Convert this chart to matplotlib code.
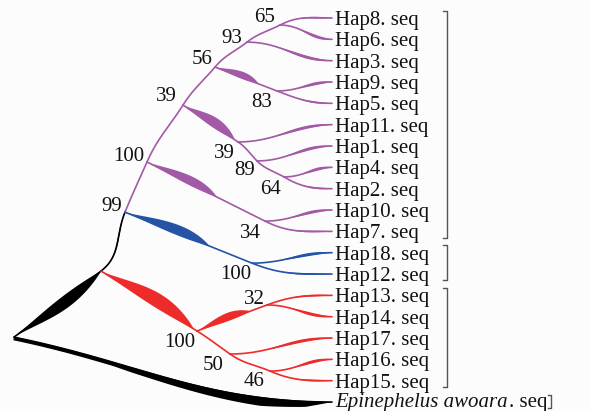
import numpy as np
import matplotlib
matplotlib.use("Agg")
from matplotlib import pyplot as plt

# leaves, top to bottom (row index = position in list)
leaf_names = ["Hap8", "Hap6", "Hap3", "Hap9", "Hap5", "Hap11", "Hap1", "Hap4", "Hap2",
              "Hap10", "Hap7", "Hap18", "Hap12", "Hap13", "Hap14", "Hap17", "Hap16",
              "Hap15", "Epinephelus awoara"]
leaf_depth = 332

# internal nodes: depth (x) and row (y), bootstrap support
node_names = ["root", "A", "n99", "p100", "n39a", "n56", "n93", "n65", "n83",
              "n39b", "n89", "n64", "n34", "b100", "r100", "n32", "n50", "n46"]
node_x = [14, 101, 125, 147, 183, 215, 247, 280, 277, 238, 257, 284, 265, 252, 197, 267, 230, 270]
node_y = [14.96, 11.86, 9.10, 6.75, 4.08, 2.30, 1.13, 0.33, 3.42,
          5.81, 6.70, 7.45, 9.52, 11.49, 14.67, 13.45, 15.75, 16.55]
bootstrap = [None, None, 99, 100, 39, 56, 93, 65, 83, 39, 89, 64, 34, 100, 100, 32, 50, 46]

# topology, parents listed before children
edges = [("root", "Epinephelus awoara"), ("root", "A"),
         ("A", "n99"), ("A", "r100"),
         ("n99", "p100"), ("n99", "b100"),
         ("p100", "n39a"), ("p100", "n34"),
         ("n39a", "n56"), ("n39a", "n39b"),
         ("n56", "n93"), ("n56", "n83"),
         ("n93", "n65"), ("n93", "Hap3"),
         ("n65", "Hap8"), ("n65", "Hap6"),
         ("n83", "Hap9"), ("n83", "Hap5"),
         ("n39b", "Hap11"), ("n39b", "n89"),
         ("n89", "Hap1"), ("n89", "n64"),
         ("n64", "Hap4"), ("n64", "Hap2"),
         ("n34", "Hap10"), ("n34", "Hap7"),
         ("b100", "Hap18"), ("b100", "Hap12"),
         ("r100", "n32"), ("r100", "n50"),
         ("n32", "Hap13"), ("n32", "Hap14"),
         ("n50", "Hap17"), ("n50", "n46"),
         ("n46", "Hap16"), ("n46", "Hap15")]

groups = [(0, 10), (11, 12), (13, 17)]

# ---- styles ----
clade_colors = {"p100": "#a25aa6", "b100": "#2553a6", "r100": "#ee2b2b"}
# label offsets (px, right / down) of bootstrap numbers from their node
label_off = {"n99": (-13, -8), "p100": (-18, -8), "n39a": (-17, -11), "n56": (-13, -10),
             "n93": (-15, -6), "n65": (-15, -10), "n83": (-15, 9), "n39b": (-14, 9),
             "n89": (-12, 7), "n64": (-13, 10), "n34": (-15, 10), "b100": (-16, 9),
             "r100": (-17, 9), "n32": (-13, -8), "n50": (-17, 9), "n46": (-16, 8)}
# lens shapes: (t start, t end, width px, share on upper side)
lens = {"A": (0.0, 1.0, 12, 0.25), "r100": (0.0, 0.97, 14, 0.85),
        "b100": (0.0, 0.68, 10, 0.8), "n34": (0.0, 0.6, 9, 0.8),
        "n39b": (0.0, 0.95, 10, 0.8), "n83": (0.0, 0.72, 7, 0.8),
        "n32": (0.0, 0.78, 8, 0.8), "n99": (0.0, 1.0, 1.2, 0.5)}
leaf_lens_side = (0.3, 1.0, 3.0, 0.5)
leaf_lens_cont = (0.3, 1.0, 1.8, 0.5)
FS = 15
SERIF = "Liberation Serif"

fig = plt.figure(figsize=(5.91, 4.11), dpi=100)
fig.patch.set_facecolor("#fcfcfc")
ax = fig.add_axes([0, 0, 1, 1])
ax.set_xlim(0, 591)
ax.set_ylim(18.42, -0.844)
ax.axis("off")

pos = {n: (x, y) for n, x, y in zip(node_names, node_x, node_y)}
for i, n in enumerate(leaf_names):
    pos[n] = (leaf_depth, i)
leaves = set(leaf_names)

children = {}
for p, c in edges:
    children.setdefault(p, []).append(c)

# colour of every edge, inherited down the tree
color = {}
for p, c in edges:
    color[c] = clade_colors.get(c, color.get(p, "black"))

to_disp = ax.transData.transform
to_data = ax.transData.inverted().transform


def unit(v):
    return v / np.hypot(*v)


def angle(v):
    return np.arctan2(v[1], v[0])


incoming = {}  # direction (display) of the curve arriving at each node
t = np.linspace(0, 1, 160)[:, None]

for p, c in edges:
    P0 = to_disp(pos[p])
    P3 = to_disp(pos[c])
    chord = P3 - P0
    L = np.hypot(*chord)

    # which child carries on the parent's direction
    if p in incoming:
        din = incoming[p]
        cont = min(children[p], key=lambda k: abs(angle(to_disp(pos[k]) - P0) - angle(din)))
    else:
        din = unit(chord)
        cont = c
    is_cont = (c == cont)
    is_leaf = c in leaves

    if is_cont:
        d0 = din
    elif is_leaf:
        d0 = np.array([1.0, 0.0])
    else:
        d0 = unit(chord)
    d1 = np.array([1.0, 0.0]) if is_leaf else unit(chord)
    incoming[c] = d1

    P1 = P0 + d0 * 0.4 * L
    P2 = P3 - d1 * 0.4 * L
    B = ((1 - t) ** 3) * P0 + 3 * ((1 - t) ** 2) * t * P1 + 3 * (1 - t) * t ** 2 * P2 + t ** 3 * P3
    dB = 3 * ((1 - t) ** 2) * (P1 - P0) + 6 * (1 - t) * t * (P2 - P1) + 3 * t ** 2 * (P3 - P2)
    nrm = np.column_stack([-dB[:, 1], dB[:, 0]]) / np.hypot(dB[:, 0], dB[:, 1])[:, None]

    tt = t[:, 0]
    if c == "Epinephelus awoara":
        f = np.interp(tt, [0, 0.3, 0.36, 0.8, 0.93, 1.0], [3.5, 4, 5, 9, 6, 0])
        side = 0.1
    else:
        if c in lens:
            spec = lens[c]
        elif is_leaf:
            spec = leaf_lens_cont if is_cont else leaf_lens_side
        else:
            spec = None
        f = np.zeros_like(tt)
        side = 0.5
        if spec is not None:
            ts, te, w, side = spec
            s = np.clip((tt - ts) / (te - ts), 0, 1)
            prof = s ** 1.3 * (1 - s) ** 0.9
            f = w * prof / prof.max()

    col = color[c]
    curve = to_data(B)
    ax.plot(curve[:, 0], curve[:, 1], color=col, lw=1.2, solid_capstyle="round")
    if f.max() > 0:
        upper = to_data(B + nrm * (f * side)[:, None])
        lower = to_data(B - nrm * (f * (1 - side))[:, None])
        poly = np.vstack([upper, lower[::-1]])
        ax.fill(poly[:, 0], poly[:, 1], color=col, lw=0)

# bootstrap values
for n, b in zip(node_names, bootstrap):
    if b is None:
        continue
    dx, dy = label_off[n]
    ax.annotate(str(b), xy=pos[n], xytext=(dx * 0.72, -(dy + 7) * 0.72),
                textcoords="offset points", ha="center", va="baseline",
                fontsize=FS, family=SERIF, color="#111111")

# tip labels
for i, n in enumerate(leaf_names[:-1]):
    ax.annotate(n + ". seq", xy=(leaf_depth, i), xytext=(2.2, -5.0),
                textcoords="offset points", ha="left", va="baseline",
                fontsize=FS, family=SERIF, color="#111111")

og = ax.annotate(leaf_names[-1], xy=(leaf_depth, 18), xytext=(2.2, -3.6),
                 textcoords="offset points", ha="left", va="baseline",
                 fontsize=FS, family=SERIF, style="italic", color="#111111")
renderer = fig.canvas.get_renderer()
bb = og.get_window_extent(renderer)
x_after = to_data((bb.x1, 0))[0]
seq = ax.annotate(". seq", xy=(x_after, 18), xytext=(1.0, -3.6),
                  textcoords="offset points", ha="left", va="baseline",
                  fontsize=FS, family=SERIF, color="#111111")
bb2 = seq.get_window_extent(renderer)
xb = to_data((bb2.x1 + 3, 0))[0]
ax.plot([xb - 3, xb, xb, xb - 3], [18 - 0.35, 18 - 0.35, 18 + 0.3, 18 + 0.3],
        color="#555555", lw=1.0)

# clade brackets
for r0, r1 in groups:
    ax.plot([443, 447, 447, 443], [r0 - 0.35, r0 - 0.35, r1 + 0.3, r1 + 0.3],
            color="#555555", lw=1.0)

fig.savefig("out.png", dpi=100, facecolor=fig.get_facecolor())
